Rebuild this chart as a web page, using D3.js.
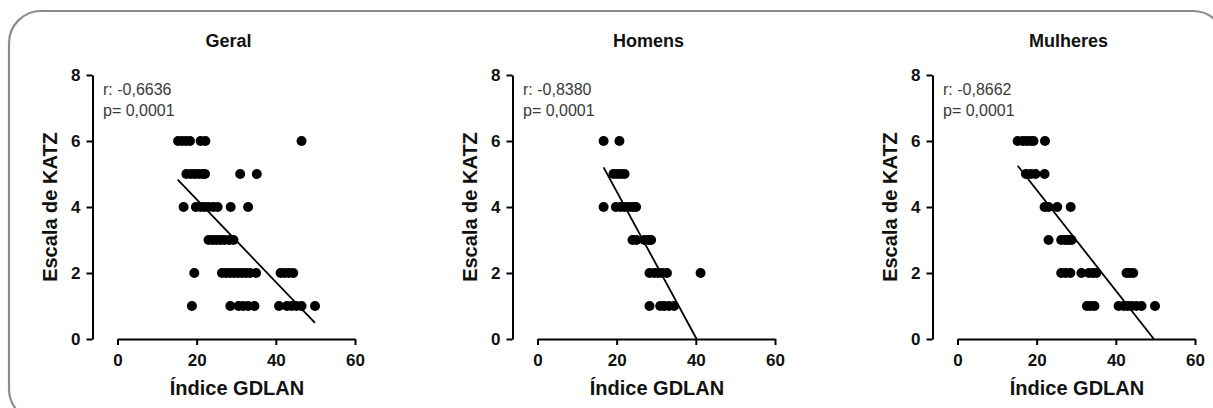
<!DOCTYPE html>
<html>
<head>
<meta charset="utf-8">
<script src="https://cdn.jsdelivr.net/npm/d3@7"></script>
<style>
  html, body { margin: 0; padding: 0; background: #fff; }
  svg { display: block; }
</style>
</head>
<body>
<svg id="chart" width="1213" height="408"></svg>
<script>
// panel titles and stats text
const titles = ["Geral", "Homens", "Mulheres"];
const rLabels = ["r: -0,6636", "r: -0,8380", "r: -0,8662"];
const pLabels = ["p= 0,0001", "p= 0,0001", "p= 0,0001"];
const xTicks = [0, 20, 40, 60];
const yTicks = [0, 2, 4, 6, 8];

// [Índice GDLAN, Escala de KATZ]
const geral = [
  [15.3, 6], [16.3, 6], [17.3, 6], [18.3, 6], [21, 6], [22.2, 6], [46.5, 6],
  [17.4, 5], [18.5, 5], [19.5, 5], [20.5, 5], [21.5, 5], [22.1, 5], [31, 5], [35.2, 5],
  [16.7, 4], [19.8, 4], [21, 4], [22, 4], [23, 4], [24.2, 4], [25.3, 4], [28.6, 4], [33, 4],
  [23, 3], [24, 3], [25, 3], [26, 3], [27, 3], [28.2, 3], [29.3, 3],
  [19.4, 2], [26.4, 2], [27.5, 2], [28.5, 2], [29.5, 2], [30.5, 2], [31.5, 2], [32.5, 2],
  [33.5, 2], [35, 2], [41.2, 2], [42.2, 2], [43.3, 2], [44.4, 2],
  [18.8, 1], [28.5, 1], [30.6, 1], [31.8, 1], [33, 1], [34.6, 1],
  [40.8, 1], [42.8, 1], [44, 1], [45.2, 1], [46.5, 1], [49.9, 1]
];
const homens = [
  [16.7, 6], [20.7, 6],
  [19.2, 5], [20.2, 5], [21.2, 5], [22, 5],
  [16.7, 4], [19.8, 4], [21, 4], [22, 4], [23, 4], [24, 4], [24.9, 4],
  [24, 3], [25, 3], [27, 3], [28, 3], [28.7, 3],
  [28.3, 2], [29.5, 2], [30.5, 2], [31.5, 2], [32.7, 2], [41.2, 2],
  [28.3, 1], [31, 1], [32, 1], [33.2, 1], [34.5, 1]
];
const mulheres = [
  [15.2, 6], [16.5, 6], [17.5, 6], [18.5, 6], [19.2, 6], [22.1, 6],
  [17.3, 5], [18.5, 5], [19.7, 5], [22, 5],
  [22, 4], [23, 4], [25.2, 4], [28.6, 4],
  [23, 3], [26.2, 3], [27.2, 3], [28, 3], [28.8, 3],
  [26.2, 2], [27.3, 2], [28.5, 2], [31.3, 2], [33.2, 2], [34.2, 2], [35.1, 2],
  [42.7, 2], [43.5, 2], [44.4, 2],
  [32.7, 1], [33.6, 1], [34.6, 1], [40.7, 1], [42, 1], [43, 1], [44, 1],
  [45.2, 1], [46.5, 1], [49.9, 1]
];
// regression line ends
const geralFit = [[15.2, 4.83], [49.9, 0.49]];
const homensFit = [[16.7, 5.2], [40.2, 0]];
const mulheresFit = [[15.2, 5.25], [49.6, 0]];

const panels = [geral, homens, mulheres];
const fits = [geralFit, homensFit, mulheresFit];

const FONT = "'Liberation Sans', Arial, Helvetica, sans-serif";
const svg = d3.select("#chart");

// rounded frame
svg.append("rect")
  .attr("x", 9).attr("y", 11)
  .attr("width", 1216).attr("height", 410)
  .attr("rx", 32).attr("ry", 32)
  .attr("fill", "none")
  .attr("stroke", "#8c8c8c")
  .attr("stroke-width", 2.2);

const PANEL_STEP = 420;

panels.forEach((pts, i) => {
  const dx = i * PANEL_STEP;
  const g = svg.append("g").attr("transform", `translate(${dx},0)`);

  const x = d3.scaleLinear().domain([0, 60]).range([117.5, 355]);
  const y = d3.scaleLinear().domain([0, 8]).range([339, 75]);

  // y axis
  const ya = g.append("g")
    .attr("transform", "translate(92.5,0)")
    .call(d3.axisLeft(y).tickValues(yTicks).tickSize(6).tickSizeOuter(0).tickPadding(6));
  // x axis
  const xa = g.append("g")
    .attr("transform", "translate(0,339)")
    .call(d3.axisBottom(x).tickValues(xTicks).tickSize(6).tickSizeOuter(0).tickPadding(9));

  [ya, xa].forEach(a => {
    a.select(".domain").attr("stroke", "#000").attr("stroke-width", 2);
    a.selectAll(".tick line").attr("stroke", "#000").attr("stroke-width", 2);
    a.selectAll(".tick text")
      .attr("font-family", FONT)
      .attr("font-size", 17)
      .attr("font-weight", "bold")
      .attr("fill", "#111");
  });

  // title
  g.append("text")
    .attr("x", 228.5).attr("y", 46.5)
    .attr("text-anchor", "middle")
    .attr("font-family", FONT).attr("font-size", 18).attr("font-weight", "bold")
    .attr("fill", "#111")
    .text(titles[i]);

  // axis titles
  g.append("text")
    .attr("x", 237).attr("y", 395)
    .attr("text-anchor", "middle")
    .attr("font-family", FONT).attr("font-size", 20).attr("font-weight", "bold")
    .attr("fill", "#111")
    .text("Índice GDLAN");

  g.append("text")
    .attr("transform", "translate(57,207) rotate(-90)")
    .attr("text-anchor", "middle")
    .attr("font-family", FONT).attr("font-size", 20).attr("font-weight", "bold")
    .attr("fill", "#111")
    .text("Escala de KATZ");

  // stats
  g.append("text")
    .attr("x", 103).attr("y", 95)
    .attr("font-family", FONT).attr("font-size", 16)
    .attr("fill", "#3a3a3a")
    .text(rLabels[i]);
  g.append("text")
    .attr("x", 103).attr("y", 115.5)
    .attr("font-family", FONT).attr("font-size", 16)
    .attr("fill", "#3a3a3a")
    .text(pLabels[i]);

  // points
  g.append("g").selectAll("circle")
    .data(pts)
    .join("circle")
    .attr("cx", d => x(d[0]))
    .attr("cy", d => y(d[1]))
    .attr("r", 5)
    .attr("fill", "#000");

  // fit line
  g.append("path")
    .datum(fits[i])
    .attr("d", d3.line().x(d => x(d[0])).y(d => y(d[1])))
    .attr("fill", "none")
    .attr("stroke", "#000")
    .attr("stroke-width", 1.8);
});
</script>
</body>
</html>
